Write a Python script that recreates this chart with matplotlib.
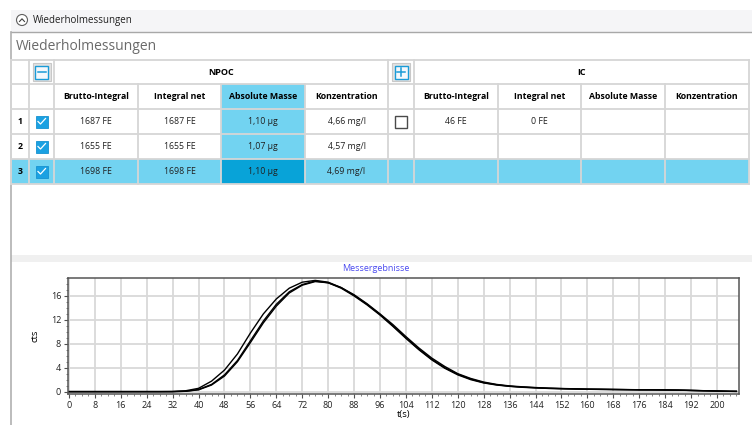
import numpy as np
import matplotlib
matplotlib.use("Agg")
import matplotlib.pyplot as plt
from matplotlib.patches import Rectangle
from matplotlib.ticker import MultipleLocator

plt.rcParams['font.family'] = ['Open Sans', 'DejaVu Sans']

# table content
panel_title = "Wiederholmessungen"
groups = ["NPOC", "IC"]
col_headers = ["Brutto-Integral", "Integral net", "Absolute Masse", "Konzentration"]
row_ids = ["1", "2", "3"]
npoc_checked = [True, True, True]
npoc_brutto = ["1687 FE", "1655 FE", "1698 FE"]
npoc_net = ["1687 FE", "1655 FE", "1698 FE"]
npoc_masse = ["1,10 µg", "1,07 µg", "1,10 µg"]
npoc_konz = ["4,66 mg/l", "4,57 mg/l", "4,69 mg/l"]
ic_brutto = ["46 FE", "", ""]
ic_net = ["0 FE", "", ""]

# chart data
t = [0, 4, 8, 12, 16, 20, 24, 28, 32, 36, 40, 44, 48, 52, 56, 60, 64, 68, 72, 76,
     80, 84, 88, 92, 96, 100, 104, 108, 112, 116, 120, 124, 128, 132, 136, 140,
     144, 148, 152, 156, 160, 164, 168, 172, 176, 180, 184, 188, 192, 196, 200, 204, 206]
cts_1 = [0.0, 0.0, 0.0, 0.0, 0.0, 0.0, 0.0, 0.0, 0.02, 0.14, 0.55, 1.75, 3.6, 6.3, 9.8, 13.0,
         15.5, 17.3, 18.3, 18.6, 18.3, 17.4, 16.1, 14.6, 12.9, 11.0, 9.0, 7.1, 5.4, 4.0,
         2.9, 2.1, 1.5, 1.15, 0.9, 0.75, 0.65, 0.55, 0.5, 0.45, 0.4, 0.38, 0.35, 0.33,
         0.3, 0.3, 0.28, 0.25, 0.2, 0.15, 0.1, 0.05, 0.04]
cts_2 = [0.0, 0.0, 0.0, 0.0, 0.0, 0.0, 0.0, 0.0, 0.0, 0.05, 0.3, 1.1, 2.6, 5.0, 8.2, 11.5,
         14.3, 16.5, 17.8, 18.4, 18.2, 17.4, 16.2, 14.7, 13.0, 11.2, 9.2, 7.3, 5.6, 4.2,
         3.0, 2.2, 1.6, 1.2, 0.95, 0.8, 0.68, 0.58, 0.52, 0.47, 0.42, 0.4, 0.37, 0.34,
         0.31, 0.3, 0.28, 0.25, 0.2, 0.15, 0.1, 0.05, 0.04]
cts_3 = [0.0, 0.0, 0.0, 0.0, 0.0, 0.0, 0.0, 0.0, 0.0, 0.06, 0.35, 1.2, 2.8, 5.2, 8.5, 11.8,
         14.6, 16.7, 17.9, 18.5, 18.2, 17.3, 16.0, 14.5, 12.8, 10.9, 8.9, 7.0, 5.3, 3.9,
         2.8, 2.0, 1.45, 1.1, 0.88, 0.72, 0.62, 0.53, 0.48, 0.43, 0.39, 0.36, 0.34, 0.32,
         0.3, 0.29, 0.27, 0.24, 0.19, 0.14, 0.09, 0.05, 0.04]

W, H = 752, 425
fig = plt.figure(figsize=(W / 100, H / 100), dpi=100)
fig.patch.set_facecolor("white")

# pixel overlay for the window chrome and the table
ui = fig.add_axes([0, 0, 1, 1])
ui.set_xlim(0, W)
ui.set_ylim(H, 0)
ui.axis("off")

light = "#72D3F1"
dark = "#08A3D8"
grid_c = "#D6D6D6"

# top strip
ui.add_patch(Rectangle((11, 10), W, 22, facecolor="#F5F5F7", edgecolor="none"))
ui.plot([11, W], [32, 32], color="#A8A8A8", lw=1.0)
ui.add_patch(plt.Circle((22, 20), 5.5, facecolor="white", edgecolor="#606060", lw=0.8))
ui.plot([19.5, 22, 24.5], [21.5, 18.8, 21.5], color="#404040", lw=0.8)
ui.text(33, 20.5, panel_title, fontsize=7, va="center", ha="left", color="#202020")
ui.plot([11, 11], [32, H], color="#B0B0B0", lw=1.2)
ui.text(16, 46, panel_title, fontsize=10, va="center", ha="left", color="#6A6A6A")

# table layout
xs = [11, 29, 54, 138, 221, 305, 388, 414, 498, 581, 665, 749]
ys = [60, 84, 109, 134, 159, 184]

# backgrounds
ui.add_patch(Rectangle((xs[4], ys[1]), xs[5] - xs[4], ys[4] - ys[1], facecolor=light, edgecolor="none"))
ui.add_patch(Rectangle((xs[0], ys[4]), xs[-1] - xs[0], ys[5] - ys[4], facecolor=light, edgecolor="none"))
ui.add_patch(Rectangle((xs[4], ys[4]), xs[5] - xs[4], ys[5] - ys[4], facecolor=dark, edgecolor="none"))

# grid lines
for y in ys:
    ui.plot([xs[0], xs[-1]], [y, y], color=grid_c, lw=1.3)
for i, x in enumerate(xs):
    y0 = ys[0] if i in (0, 1, 2, 6, 7, 11) else ys[1]
    ui.plot([x, x], [y0, ys[-1]], color=grid_c, lw=1.3)

# group headers
ui.text((xs[2] + xs[6]) / 2, (ys[0] + ys[1]) / 2, groups[0], fontsize=6.5, weight="bold", ha="center", va="center")
ui.text((xs[7] + xs[11]) / 2, (ys[0] + ys[1]) / 2, groups[1], fontsize=6.5, weight="bold", ha="center", va="center")


def toggle(cx, cy, plus):
    ui.add_patch(Rectangle((cx - 9, cy - 9), 18, 18, facecolor="#E2E2E2", edgecolor="#C8C8C8", lw=0.8))
    ui.add_patch(Rectangle((cx - 6.5, cy - 6.5), 13, 13, facecolor="#F4F8FC", edgecolor="#1A9BD7", lw=1.0))
    ui.plot([cx - 4, cx + 4], [cy, cy], color="#1A9BD7", lw=1.1)
    if plus:
        ui.plot([cx, cx], [cy - 4, cy + 4], color="#1A9BD7", lw=1.1)


toggle((xs[1] + xs[2]) / 2, (ys[0] + ys[1]) / 2, False)
toggle((xs[6] + xs[7]) / 2, (ys[0] + ys[1]) / 2, True)

# column headers
for g, start in ((0, 2), (1, 7)):
    for j, name in enumerate(col_headers):
        cx = (xs[start + j] + xs[start + j + 1]) / 2
        ui.text(cx, (ys[1] + ys[2]) / 2, name, fontsize=6.3, weight="bold", ha="center", va="center")


def checkbox(cx, cy, checked):
    if checked:
        ui.add_patch(Rectangle((cx - 6, cy - 6), 12, 12, facecolor="#1BA1E2", edgecolor="#1592D0", lw=0.6))
        ui.plot([cx - 3.5, cx - 1, cx + 4], [cy, cy + 2.5, cy - 3], color="white", lw=0.9)
    else:
        ui.add_patch(Rectangle((cx - 6, cy - 6), 12, 12, facecolor="white", edgecolor="#4A4A4A", lw=1.0))


def mid(a, i):
    return (a[i] + a[i + 1]) / 2


for r in range(3):
    cy = mid(ys, r + 2)
    ui.text(mid(xs, 0), cy, row_ids[r], fontsize=6.3, weight="bold", ha="center", va="center")
    checkbox(mid(xs, 1), cy, npoc_checked[r])
    for j, col in enumerate((npoc_brutto, npoc_net, npoc_masse, npoc_konz)):
        ui.text(mid(xs, 2 + j), cy, col[r], fontsize=6.3, ha="center", va="center", color="#202020")
    if ic_brutto[r]:
        checkbox(mid(xs, 6), cy, False)
    for j, col in enumerate((ic_brutto, ic_net)):
        ui.text(mid(xs, 7 + j), cy, col[r], fontsize=6.3, ha="center", va="center", color="#202020")

# chart area
ui.add_patch(Rectangle((11, 255), W, 7, facecolor="#F0F0F0", edgecolor="none"))
ui.text(376, 268.5, "Messergebnisse", fontsize=6.5, color="#4A4AF0", ha="center", va="center")

ax = fig.add_axes([68 / W, 1 - 394 / H, (739 - 68) / W, (394 - 278) / H])
for series in (cts_1, cts_2, cts_3):
    ax.plot(t, series, color="black", lw=1.0)
ax.set_xlim(-0.3, 206.8)
ax.set_ylim(-0.4, 19.0)
ax.xaxis.set_major_locator(MultipleLocator(8))
ax.xaxis.set_minor_locator(MultipleLocator(2))
ax.yaxis.set_major_locator(MultipleLocator(4))
ax.yaxis.set_minor_locator(MultipleLocator(1))
ax.grid(True, which="major", color="#D9D9D9", lw=1.3)
ax.set_axisbelow(True)
ax.tick_params(which="major", labelsize=6.5, length=3, width=0.8, colors="#505050", labelcolor="#202020", pad=2)
ax.tick_params(which="minor", length=1.5, width=0.6, colors="#707070")
for s in ax.spines.values():
    s.set_color("#555555")
    s.set_linewidth(1.1)
ax.set_xlabel("t(s)", fontsize=6.8, labelpad=0)
ax.set_ylabel("cts", fontsize=6.8, labelpad=8)

fig.savefig("out.png", dpi=100)
